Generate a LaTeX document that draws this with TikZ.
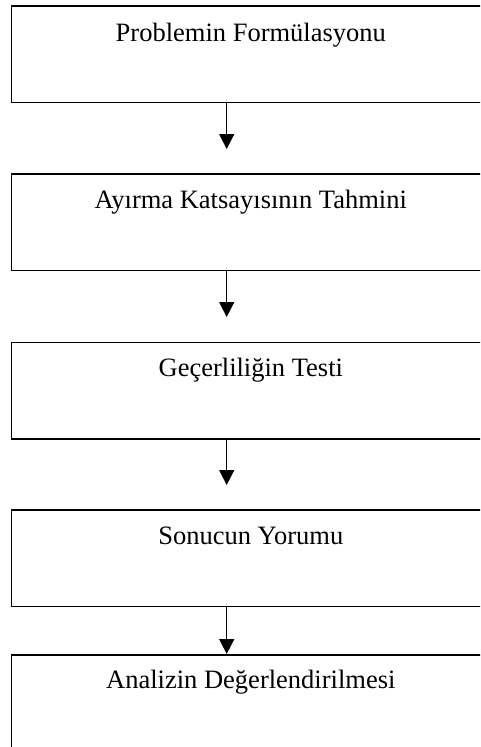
\documentclass[tikz,border=0pt]{standalone}
\usepackage{fontspec}
\setmainfont{Liberation Serif}
\usetikzlibrary{arrows.meta}
\begin{document}
\begin{tikzpicture}[x=1pt,y=-1pt,
  stage/.style={draw=black,line width=1.6pt,minimum width=479pt,minimum height=96.5pt,inner sep=0pt,anchor=north west},
  caption/.style={anchor=base,font=\fontsize{26.5}{30}\selectfont,inner sep=0pt},
  flow/.style={line width=1.5pt,-{Triangle[width=15pt,length=15pt]}}]
  \useasboundingbox (0,0) rectangle (480,747);
  \clip (0,0) rectangle (480,747);
  \fill[white] (0,0) rectangle (480,747);

  % stage boxes (the page cuts off their right side and the last box's bottom)
  \node[stage] (b1) at (10.5,5)     {};
  \node[stage] (b2) at (10.5,173)   {};
  \node[stage] (b3) at (10.5,341.5) {};
  \node[stage] (b4) at (10.5,509)   {};
  \node[stage] (b5) at (10.5,654)   {};

  % captions near the top of each box
  \node[caption] (t1) at ([yshift=-36.5pt]b1.north) {Problemin Formülasyonu};
  \node[caption] (t2) at ([yshift=-35pt]b2.north)   {Ayırma Katsayısının Tahmini};
  \node[caption] (t3) at ([yshift=-35pt]b3.north)   {Geçerliliğin Testi};
  \node[caption] (t4) at ([yshift=-35pt]b4.north)   {Sonucun Yorumu};
  \node[caption] (t5) at ([yshift=-34.5pt]b5.north) {Analizin Değerlendirilmesi};

  % arrows, all on one vertical line
  \coordinate (ax) at (226.7,0);
  \draw[flow,shorten >=24pt] (b1.south -| ax) -- (b2.north -| ax);
  \draw[flow,shorten >=24.5pt] (b2.south -| ax) -- (b3.north -| ax);
  \draw[flow,shorten >=24pt] (b3.south -| ax) -- (b4.north -| ax);
  \draw[flow] (b4.south -| ax) -- (b5.north -| ax);
\end{tikzpicture}
\end{document}
